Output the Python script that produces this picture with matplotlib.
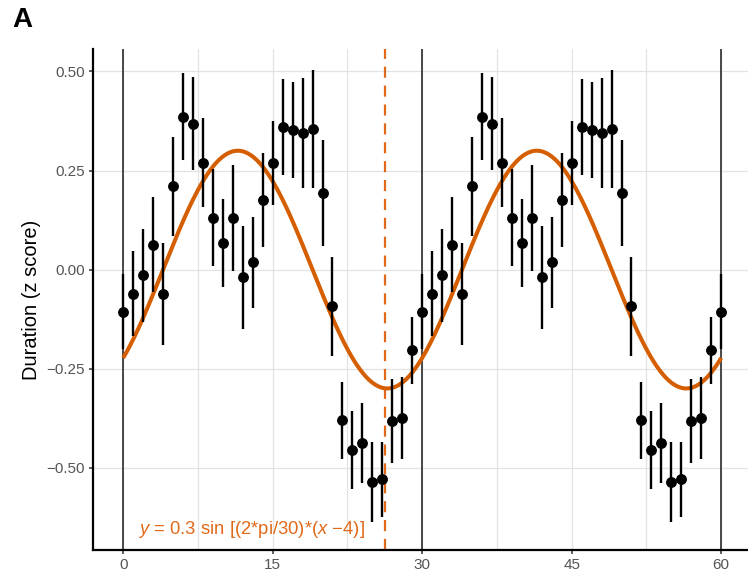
import numpy as np
import matplotlib
matplotlib.use('Agg')
import matplotlib.pyplot as plt

plt.rcParams['font.family'] = ['Liberation Sans', 'DejaVu Sans']
plt.rcParams['mathtext.fontset'] = 'custom'
plt.rcParams['mathtext.rm'] = 'Liberation Sans'
plt.rcParams['mathtext.it'] = 'Liberation Sans:italic'

# one 30-unit cycle (double plotted: 0-29, 30-59, then 60)
cycle_x = list(range(30))
cycle_mean = [-0.106, -0.061, -0.014, 0.063, -0.062, 0.210, 0.386, 0.368, 0.270, 0.131,
              0.067, 0.131, -0.019, 0.018, 0.176, 0.269, 0.360, 0.352, 0.344, 0.355,
              0.194, -0.093, -0.380, -0.455, -0.437, -0.537, -0.529, -0.383, -0.375, -0.204]
cycle_err = [0.095, 0.107, 0.117, 0.120, 0.128, 0.125, 0.109, 0.117, 0.112, 0.122,
             0.110, 0.134, 0.130, 0.115, 0.118, 0.107, 0.120, 0.122, 0.139, 0.148,
             0.134, 0.125, 0.097, 0.099, 0.101, 0.101, 0.095, 0.106, 0.103, 0.085]

x_vals = cycle_x + [v + 30 for v in cycle_x] + [60]
y_vals = cycle_mean + cycle_mean + [cycle_mean[0]]
y_err = cycle_err + cycle_err + [cycle_err[0]]

amp = 0.3
period = 30
shift = 4
trough_x = 26.3
day_lines = [0, 30, 60]
x_ticks = [0, 15, 30, 45, 60]
y_ticks = [-0.50, -0.25, 0.00, 0.25, 0.50]

orange = '#D55E00'

fig = plt.figure(figsize=(7.48, 5.77), dpi=100)
ax = fig.add_axes([0.1247, 0.0468, 0.8794, 0.8683])

# grid
for gx in np.arange(0, 61, 7.5):
    ax.axvline(gx, color='#e3e3e3', lw=0.9, zorder=0)
for gy in y_ticks:
    ax.axhline(gy, color='#e3e3e3', lw=0.9, zorder=0)

for d in day_lines:
    ax.axvline(d, color='#2b2b2b', lw=1.2, zorder=1)

ax.axvline(trough_x, color='#E06A1A', lw=1.6, linestyle=(0, (5, 3.5)), zorder=2)

xx = np.linspace(0, 60, 400)
ax.plot(xx, amp * np.sin((2 * np.pi / period) * (xx - shift)), color=orange, lw=2.9,
        zorder=2, solid_capstyle='butt')

ax.errorbar(x_vals, y_vals, yerr=y_err, fmt='o', color='black', ecolor='black',
            elinewidth=1.7, markersize=6.8, capsize=0, zorder=3)

ax.text(12.9, -0.657, r'$y$ = 0.3 sin [(2*pi/30)*($x$ $-$4)]', color='#E06A1A',
        fontsize=13.3, ha='center', va='center')

ax.set_xlim(-3, 63)
ax.set_ylim(-0.7077, 0.5568)
ax.set_xticks(x_ticks)
ax.set_yticks(y_ticks)
ax.set_yticklabels([f'{t:.2f}'.replace('-', '\u2212') for t in y_ticks])
ax.tick_params(colors='#333333', labelcolor='#555555', labelsize=11, length=3, width=1.1, pad=3)

for s in ['top', 'right']:
    ax.spines[s].set_visible(False)
for s in ['left', 'bottom']:
    ax.spines[s].set_linewidth(1.6)
    ax.spines[s].set_color('black')

ax.set_ylabel('Duration (z score)', fontsize=14.5, labelpad=4)
fig.text(12 / 748, 1 - 27 / 577, 'A', fontsize=20, fontweight='bold', ha='left', va='baseline')

fig.savefig('out.png', dpi=100)
